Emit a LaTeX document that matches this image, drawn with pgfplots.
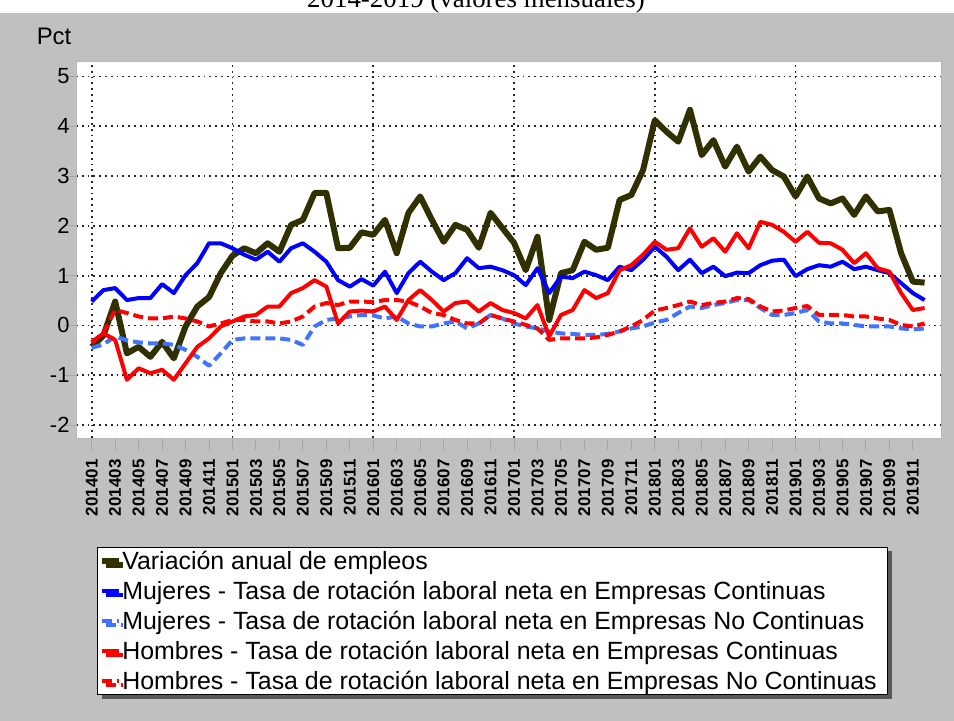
\documentclass[border=0pt]{standalone}
\usepackage{fontspec}
\setmainfont{Liberation Sans}
\newfontfamily\titlefont{Liberation Serif}
\usepackage{pgfplots}
\usepackage{pgfplotstable}
\pgfplotsset{compat=1.18}
\usetikzlibrary{shadows}
\definecolor{bg}{RGB}{192,192,192}
\definecolor{olive}{RGB}{48,48,0}
\definecolor{lblue}{RGB}{64,115,255}

\pgfplotstableread{
i emp mc mnc hc hnc
0 -0.43 0.48 -0.45 -0.33 -0.35
1 -0.20 0.71 -0.38 -0.16 -0.15
2 0.48 0.75 -0.22 -0.29 0.31
3 -0.56 0.51 -0.30 -1.09 0.25
4 -0.43 0.55 -0.34 -0.86 0.18
5 -0.63 0.55 -0.36 -0.96 0.14
6 -0.33 0.83 -0.36 -0.89 0.14
7 -0.66 0.65 -0.39 -1.09 0.18
8 -0.02 1.01 -0.49 -0.76 0.14
9 0.38 1.25 -0.63 -0.43 0.08
10 0.57 1.65 -0.81 -0.26 -0.02
11 1.05 1.65 -0.56 -0.02 0.04
12 1.40 1.55 -0.29 0.08 0.11
13 1.55 1.42 -0.26 0.18 0.11
14 1.45 1.32 -0.26 0.21 0.08
15 1.65 1.48 -0.26 0.38 0.08
16 1.48 1.28 -0.26 0.38 0.04
17 2.02 1.55 -0.29 0.65 0.08
18 2.12 1.65 -0.39 0.75 0.18
19 2.66 1.48 -0.02 0.91 0.38
20 2.66 1.28 0.11 0.78 0.45
21 1.55 0.91 0.14 0.04 0.41
22 1.56 0.78 0.18 0.28 0.48
23 1.87 0.93 0.21 0.30 0.48
24 1.82 0.80 0.20 0.28 0.47
25 2.12 1.08 0.14 0.38 0.51
26 1.45 0.65 0.18 0.11 0.51
27 2.26 1.05 0.04 0.51 0.48
28 2.59 1.28 -0.02 0.71 0.38
29 2.12 1.08 -0.02 0.51 0.25
30 1.68 0.91 0.04 0.28 0.21
31 2.02 1.05 0.08 0.45 0.11
32 1.92 1.35 -0.06 0.48 0.04
33 1.56 1.15 0.04 0.28 0.04
34 2.26 1.18 0.21 0.45 0.21
35 1.96 1.11 0.14 0.31 0.14
36 1.66 1.01 0.04 0.25 0.08
37 1.11 0.81 -0.02 0.14 0.01
38 1.78 1.15 -0.06 0.41 -0.06
39 0.11 0.65 -0.12 -0.22 -0.29
40 1.05 0.98 -0.16 0.21 -0.26
41 1.11 0.95 -0.17 0.31 -0.26
42 1.68 1.08 -0.19 0.71 -0.26
43 1.52 1.01 -0.19 0.55 -0.24
44 1.56 0.91 -0.17 0.65 -0.19
45 2.52 1.18 -0.12 1.11 -0.12
46 2.62 1.11 -0.06 1.21 -0.02
47 3.12 1.32 -0.02 1.42 0.11
48 4.12 1.58 0.06 1.68 0.30
49 3.89 1.38 0.11 1.52 0.35
50 3.69 1.11 0.25 1.55 0.41
51 4.33 1.32 0.38 1.95 0.48
52 3.42 1.05 0.35 1.58 0.41
53 3.72 1.18 0.41 1.75 0.45
54 3.19 0.99 0.45 1.48 0.48
55 3.59 1.06 0.51 1.85 0.55
56 3.09 1.05 0.51 1.55 0.53
57 3.39 1.21 0.35 2.08 0.38
58 3.12 1.30 0.21 2.02 0.28
59 2.99 1.32 0.21 1.88 0.30
60 2.59 0.99 0.25 1.68 0.35
61 2.99 1.13 0.31 1.88 0.39
62 2.55 1.21 0.08 1.66 0.21
63 2.45 1.18 0.04 1.65 0.21
64 2.55 1.28 0.04 1.52 0.21
65 2.22 1.13 0.01 1.25 0.18
66 2.59 1.18 -0.02 1.45 0.18
67 2.29 1.11 -0.02 1.15 0.14
68 2.32 1.05 -0.02 1.08 0.11
69 1.45 0.85 -0.06 0.65 0.01
70 0.88 0.65 -0.08 0.31 -0.02
71 0.86 0.51 -0.06 0.35 0.04
}\datatab

\begin{document}
\begin{tikzpicture}
\path[use as bounding box] (0,0) rectangle (954bp,721bp);
\fill[white] (0,0) rectangle (954bp,721bp);
\fill[bg] (0,0) rectangle (954bp,708bp);
\node[font=\titlefont\fontsize{27}{27}\selectfont, anchor=base, inner sep=0pt] at (476bp,713bp) {2014-2019 (valores mensuales)};
\begin{axis}[
  at={(76bp,283bp)}, anchor=south west,
  scale only axis, width=865bp, height=377bp,
  xmin=-1.34, xmax=72.4, ymin=-2.26, ymax=5.31,
  axis background/.style={fill=white},
  axis line style={draw=gray!55, line width=0.8bp},
  ytick={-2,-1,0,1,2,3,4,5},
  xtick={0,2,...,70},
  xticklabels={201401,201403,201405,201407,201409,201411,
               201501,201503,201505,201507,201509,201511,
               201601,201603,201605,201607,201609,201611,
               201701,201703,201705,201707,201709,201711,
               201801,201803,201805,201807,201809,201811,
               201901,201903,201905,201907,201909,201911},
  xtick pos=bottom, ytick pos=left,
  tick align=outside, major tick length=12bp,
  tick style={gray!70, line width=1bp},
  ymajorgrids,
  extra x ticks={0,12,24,36,48,60},
  extra x tick labels={},
  extra x tick style={grid=major, major tick length=0pt},
  grid style={black!85, line width=1.8bp, dash pattern=on 1.8bp off 4bp},
  /pgf/number format/assume math mode=true,
  yticklabel style={font=\fontsize{22}{22}\selectfont, xshift=9bp},
  xticklabel style={font=\bfseries\fontsize{17}{17}\selectfont, yshift=-6bp, rotate=90, anchor=east},
  ylabel={Pct},
  ylabel style={rotate=-90, at={(axis description cs:-0.0254,1.064)}, anchor=center, font=\fontsize{24}{24}\selectfont},
  legend cell align=left,
  legend image code/.code={\draw[#1] (0bp,0bp) -- (17bp,0bp);},
  legend style={at={(axis description cs:0.0243,-0.289)}, anchor=north west,
    draw=black, line width=1bp, fill=white,
    font=\fontsize{25}{25}\selectfont,
    drop shadow={shadow xshift=4bp, shadow yshift=-4bp, fill=black!65, opacity=1},
    inner xsep=1bp, inner ysep=2.5bp, row sep=7bp,
    nodes={inner xsep=0.8bp, inner ysep=1.5bp},
    /tikz/every even column/.append style={column sep=0bp}},
]
\addplot[olive, line width=6bp, line join=round] table[x=i,y=emp]{\datatab};
\addlegendentry{Variación anual de empleos}
\addplot[blue, line width=4bp, line join=round] table[x=i,y=mc]{\datatab};
\addlegendentry{Mujeres - Tasa de rotación laboral neta en Empresas Continuas}
\addplot[lblue, line width=4bp, line join=round, dash pattern=on 10bp off 5bp] table[x=i,y=mnc]{\datatab};
\addlegendentry{Mujeres - Tasa de rotación laboral neta en Empresas No Continuas}
\addplot[red, line width=4bp, line join=round] table[x=i,y=hc]{\datatab};
\addlegendentry{Hombres - Tasa de rotación laboral neta en Empresas Continuas}
\addplot[red, line width=4bp, line join=round, dash pattern=on 10bp off 5bp] table[x=i,y=hnc]{\datatab};
\addlegendentry{Hombres - Tasa de rotación laboral neta en Empresas No Continuas\kern9bp\null}
\end{axis}
\end{tikzpicture}
\end{document}
